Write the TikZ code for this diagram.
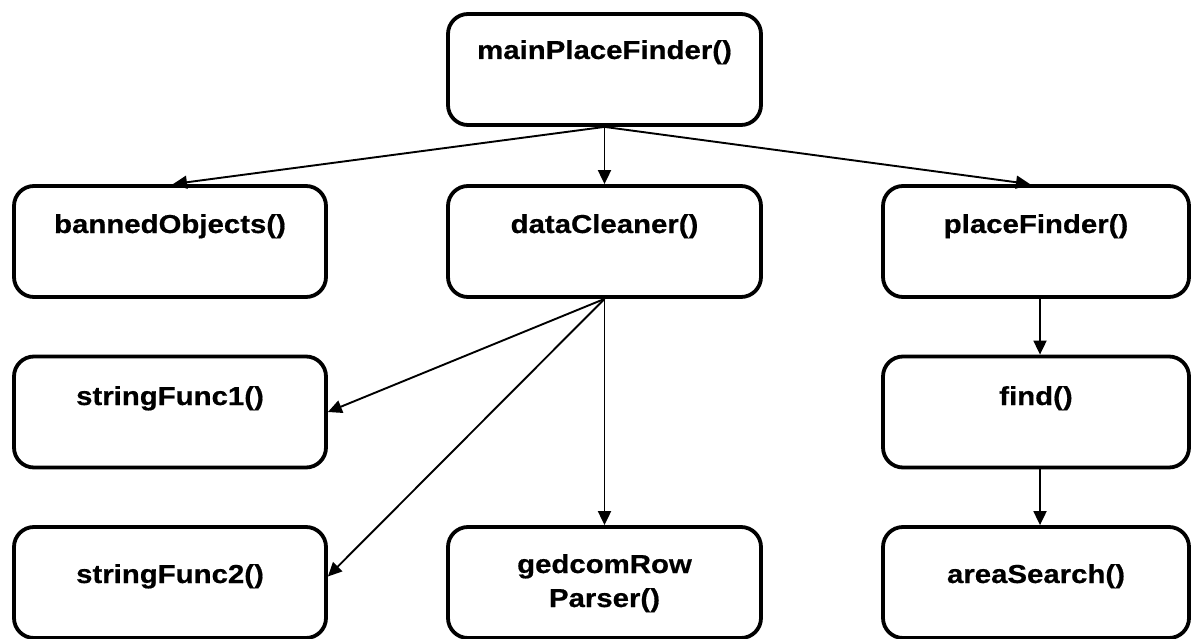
\documentclass[tikz,border=0pt]{standalone}
\usepackage{fontspec}
\newfontfamily\labfont[FakeStretch=1.13,FakeBold=0.6]{Liberation Sans}
\usetikzlibrary{arrows.meta}
\tikzset{
  box/.style={draw=black, line width=3.8pt, rounded corners=20pt, fill=white},
  boxL/.style={box, minimum width=312pt, minimum height=111pt},
  boxM/.style={box, minimum width=313pt, minimum height=111pt},
  boxR/.style={box, minimum width=306pt, minimum height=111pt},
  lab/.style={font=\labfont\bfseries\fontsize{26}{34}\selectfont, inner sep=0pt, anchor=base, align=center},
  conn/.style={line width=1.9pt, -{Triangle[length=14pt,width=13pt]}}
}
\begin{document}
\begin{tikzpicture}[x=1pt,y=-1pt]
\useasboundingbox[fill=white] (0,0) rectangle (1193,639);
% boxes
\node[boxM] (main) at (604.5,69.5) {};
\node[boxL] (banned) at (170,241.5) {};
\node[boxM] (dc) at (604.5,241.5) {};
\node[boxR] (pf) at (1036,241.5) {};
\node[boxL] (sf1) at (170,412) {};
\node[boxR] (find) at (1036,412) {};
\node[boxL] (sf2) at (170,582.5) {};
\node[boxM] (gp) at (604.5,582.5) {};
\node[boxR] (as) at (1036,582.5) {};
% labels
\node[lab] (mainT) at (604.5,59) {mainPlaceFinder()};
\node[lab] (bannedT) at (170,233) {bannedObjects()};
\node[lab] (dcT) at (604.5,233) {dataCleaner()};
\node[lab] (pfT) at (1036,233) {placeFinder()};
\node[lab] (sf1T) at (170,405) {stringFunc1()};
\node[lab] (findT) at (1036,405) {find()};
\node[lab] (sf2T) at (170,583) {stringFunc2()};
\node[lab] (gpT) at (604.5,607) {gedcomRow\\Parser()};
\node[lab] (asT) at (1036,583) {areaSearch()};
% connectors
\draw[conn] (main.south) -- ([xshift=3pt]banned.north);
\draw[conn] (main.south) -- (dc.north);
\draw[conn] (main.south) -- ([xshift=-6pt]pf.north);
\draw[conn] (dc.south) -- (sf1.east);
\draw[conn] (dc.south) -- ([yshift=6pt]sf2.east);
\draw[conn] (dc.south) -- (gp.north);
\draw[conn] ([xshift=4pt]pf.south) -- ([xshift=4pt]find.north);
\draw[conn] ([xshift=4pt]find.south) -- ([xshift=4pt]as.north);
\end{tikzpicture}
\end{document}
